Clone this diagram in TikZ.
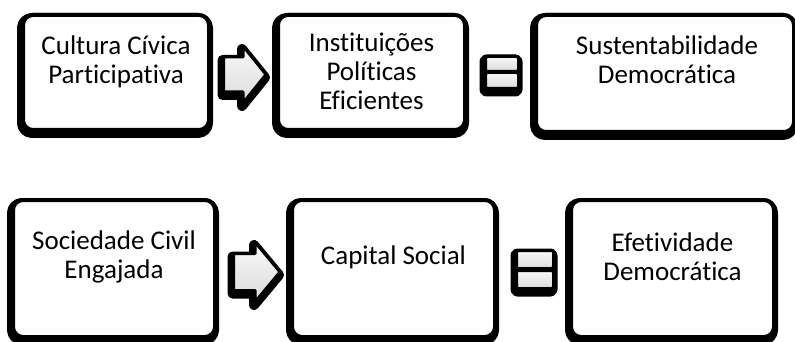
\documentclass[tikz,border=0pt]{standalone}
\usepackage{fontspec}
\setmainfont{Carlito}[Ligatures=NoCommon]
% invisible rule that fixes the height of a caption's first line
\newcommand\lineone{\vrule height 20pt width 0pt}
\begin{document}
\begin{tikzpicture}[x=1pt,y=-1pt,
  shadowpath/.style={draw=black, fill=black, line width=10pt, line join=round,
    transform canvas={shift={(-1pt,-3pt)}}},
  shadowed/.style={preaction={shadowpath}},
  stage/.style={shadowed, draw=black, line width=4pt, fill=white,
    rounded corners=10pt, inner sep=0pt},
  caption/.style={font=\fontsize{27}{29}\selectfont, align=center,
    anchor=north, inner sep=0pt},
  glyph/.style={draw=black, line width=3pt, line join=round,
    top color=gray!5, bottom color=gray!28},
]
\useasboundingbox (0,0) rectangle (795,342);
\clip (0,0) rectangle (795,342);

% first row
\node[stage, minimum width=186pt, minimum height=115pt] (b1) at (116,72.5) {};
\node[stage, minimum width=187pt, minimum height=115pt] (b2) at (371.5,72.5) {};
\node[stage, minimum width=258pt, minimum height=117pt] (b3) at (665,73.5) {};

% second row
\node[stage, minimum width=202pt, minimum height=137pt] (b4) at (114,268.5) {};
\node[stage, minimum width=203pt, minimum height=137pt] (b5) at (393.5,268.5) {};
\node[stage, minimum width=203pt, minimum height=137pt] (b6) at (672.5,268.5) {};

% captions
\node[caption] (t1) at (b1.center |- 0,34) {\lineone Cultura Cívica\\Participativa};
\node[caption] (t2) at (b2.center |- 0,31) {\lineone Instituições\\Políticas\\Eficientes};
\node[caption] (t3) at (667,34) {\lineone Sustentabilidade\\Democrática};
\node[caption] (t4) at (b4.center |- 0,229) {\lineone Sociedade Civil\\Engajada};
\node[caption] (t5) at (b5.center |- 0,244) {\lineone Capital Social};
\node[caption] (t6) at (b6.center |- 0,231) {\lineone Efetividade\\Democrática};

% block arrows
\path[shadowed, glyph] (223.5,57) -- (243,57) -- (243,46) -- (266,74.5)
  -- (243,103) -- (243,92) -- (223.5,92) -- cycle;
\path[shadowed, glyph] (233.5,253.5) -- (255,253.5) -- (255,242) -- (280,272)
  -- (255,302) -- (255,290.5) -- (233.5,290.5) -- cycle;

% equals signs
\path[shadowpath, rounded corners=2pt] (485.5,56.5) rectangle (518.5,88.5);
\path[glyph, rounded corners=2pt] (485.5,56.5) rectangle (518.5,71.5);
\path[glyph, rounded corners=2pt] (485.5,72.5) rectangle (518.5,88.5);

\path[shadowpath, rounded corners=2pt] (516.5,250.5) rectangle (553.5,288.5);
\path[glyph, rounded corners=2pt] (516.5,250.5) rectangle (553.5,268.5);
\path[glyph, rounded corners=2pt] (516.5,270.5) rectangle (553.5,288.5);
\end{tikzpicture}
\end{document}
